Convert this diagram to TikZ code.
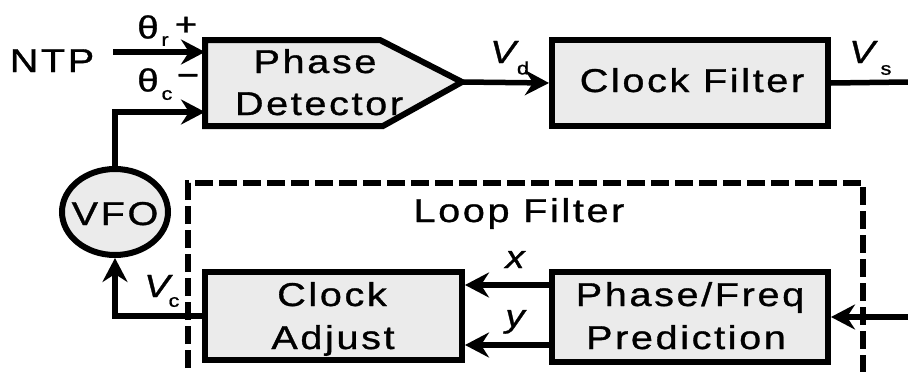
\documentclass[tikz,border=0pt]{standalone}
\usepackage{fontspec}
\setmainfont[FakeStretch=1.2,LetterSpace=8,FakeBold=1]{Liberation Sans}
\usetikzlibrary{arrows.meta,shapes.geometric}
\definecolor{blockfill}{HTML}{EBEBEB}
\newcommand{\lbl}{\fontsize{33}{40}\selectfont}
\newcommand{\sbs}{\fontsize{18}{18}\selectfont}
\tikzset{
  blk/.style={draw, line width=6pt, fill=blockfill},
  wire/.style={line width=5.5pt},
  arr/.style={wire, -{Stealth[length=24pt,width=25pt,inset=8pt]}},
  txt/.style={inner sep=0pt, anchor=base, font=\lbl},
  sym/.style={inner sep=0pt, font=\fontsize{32}{32}\selectfont},
  sub/.style={inner sep=0pt, font=\sbs},
  loop/.style={line width=5.5pt, dash pattern=on 18pt off 6pt},
}
\begin{document}
\begin{tikzpicture}[x=1pt,y=-1pt]
\useasboundingbox (0,0) rectangle (908,372);
\clip (0,0) rectangle (908,372);

% loop filter boundary
\draw[loop] (188,392) -- (188,183) -- (863,183) -- (863,392);
\node[txt] (lf) at (519,222) {Loop Filter};

% phase detector (pointed block)
\draw[blk] (205,40) -- (380,40) -- (462,82) -- (383,126) -- (205,126) -- cycle;
\coordinate (pdA) at (205,52);
\coordinate (pdB) at (205,112);
\coordinate (pdOut) at (462,82);
\node[txt] (pd1) at (315,73) {Phase};
\node[txt] (pd2) at (319,115) {Detector};

% blocks
\node[blk, minimum width=276pt, minimum height=86pt, inner sep=0pt] (cf) at (690,83) {};
\node[txt] (cft) at (692,92) {Clock Filter};
\node[blk, minimum width=257pt, minimum height=88pt, inner sep=0pt] (ca) at (333.5,316) {};
\node[txt] (ca1) at (332,306) {Clock};
\node[txt] (ca2) at (333,349) {Adjust};
\node[blk, minimum width=276pt, minimum height=90pt, inner sep=0pt] (pf) at (690,317) {};
\node[txt] (pf1) at (690,306) {Phase/Freq};
\node[txt] (pf2) at (686,349) {Prediction};
\node[blk, ellipse, minimum width=106pt, minimum height=86pt, inner sep=0pt] (vfo) at (115,212) {};
\node[txt] (vfot) at (115,225) {VFO};

% input and labels
\node[txt] (ntp) at (52,72) {NTP};
\coordinate (ntpEnd) at (113,52);
\node[sym] (thr) at (148,27) {θ};
\node[sub] (thrs) at (165,41) {r};
\node[sym] (thrp) at (186,26) {+};
\node[sym] (thc) at (148,80) {θ};
\node[sub] (thcs) at (167,95) {c};
\node[sym] (thcm) at (188,80) {−};
\node[sym] (vd) at (503,52) {\itshape V};
\node[sub] (vds) at (523,68) {d};
\node[sym] (vs) at (862,52) {\itshape V};
\node[sub] (vss) at (886,70) {s};
\node[sym] (vc) at (157,286) {\itshape V};
\node[sub] (vcs) at (174,302) {c};
\node[sym, anchor=base] (xl) at (515,268) {\itshape x};
\node[sym, anchor=base] (yl) at (515,327) {\itshape y};
\coordinate (vsEnd) at (908,82);
\coordinate (inEnd) at (908,317);

% connectors
\draw[arr] (ntpEnd) -- (pdA);
\draw[arr] (vfo.north) -- (vfo.north |- pdB) -- (pdB);
\draw[arr] (pdOut) -- (cf.west);
\draw[wire] (cf.east) -- (vsEnd);
\draw[arr] (inEnd) -- (pf.east);
\draw[arr] (pf.west |- 0,285) -- (ca.east |- 0,285);
\draw[arr] (pf.west |- 0,345) -- (ca.east |- 0,345);
\draw[arr] (ca.west) -- (vfo.south |- ca.west) -- (vfo.south);
\end{tikzpicture}
\end{document}
